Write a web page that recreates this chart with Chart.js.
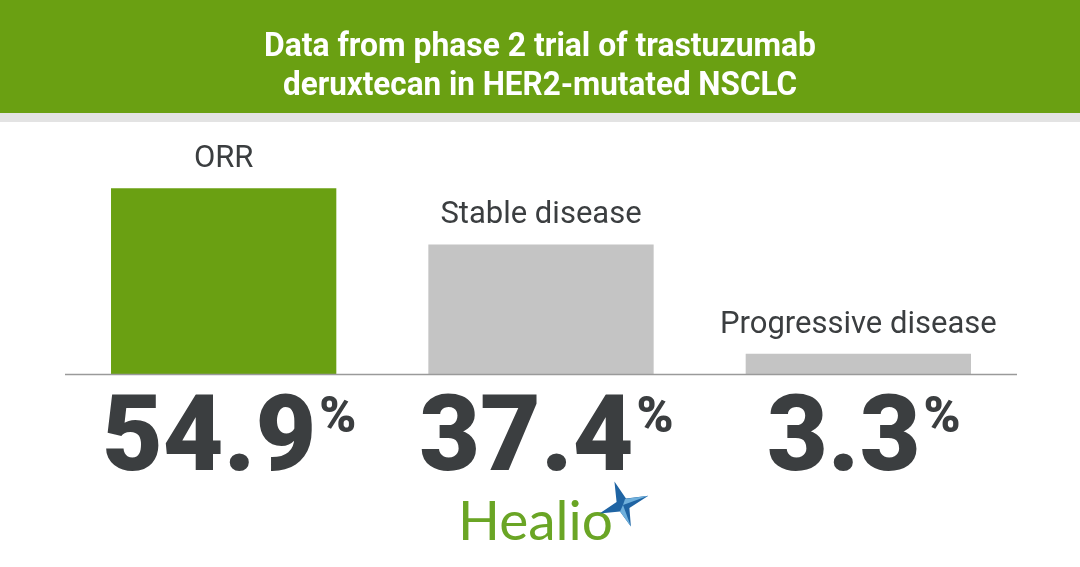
<!DOCTYPE html>
<html>
<head>
<meta charset="utf-8">
<script src="https://cdn.jsdelivr.net/npm/chart.js@4.4.1/dist/chart.umd.min.js"></script>
<style>
  body { margin: 0; background: #fff; }
  #wrap { width: 1080px; height: 567px; position: relative; }
</style>
</head>
<body>
<div id="wrap"><canvas id="resultsChart"></canvas></div>
<script>
// datos del gráfico
const categories = ['ORR', 'Stable disease', 'Progressive disease'];
const percentValues = [54.9, 37.4, 3.3];
const barColors = ['#6aa012', '#c4c4c4', '#c4c4c4'];
const titleLines = ['Data from phase 2 trial of trastuzumab', 'deruxtecan in HER2-mutated NSCLC'];

const GREEN = '#6aa012';
const TEXT_DARK = '#3b3e40';
const AXIS_BASE = -3; // la infografía no parte de cero exacto

// dibuja cabecera, etiquetas y logo
const infographicPlugin = {
    id: 'infographic',
    beforeDraw(chart) {
        const ctx = chart.ctx;
        ctx.save();
        ctx.fillStyle = '#ffffff';
        ctx.fillRect(0, 0, chart.width, chart.height);
        ctx.fillStyle = GREEN;
        ctx.fillRect(0, 0, chart.width, 113);
        ctx.fillStyle = '#e3e3e3';
        ctx.fillRect(0, 113, chart.width, 9);

        // título condensado
        ctx.fillStyle = '#ffffff';
        ctx.font = 'bold 33px Roboto';
        ctx.textBaseline = 'alphabetic';
        ctx.textAlign = 'center';
        const widths = [552, 514];
        const baselines = [56, 95];
        titleLines.forEach(function(line, i) {
            const w = ctx.measureText(line).width;
            ctx.save();
            ctx.translate(540, baselines[i]);
            ctx.scale(widths[i] / w, 1);
            ctx.fillText(line, 0, 0);
            ctx.restore();
        });
        ctx.restore();
    },
    afterDatasetsDraw(chart) {
        const ctx = chart.ctx;
        const area = chart.chartArea;
        const yScale = chart.scales.y;
        const meta = chart.getDatasetMeta(0);
        const baseY = yScale.getPixelForValue(AXIS_BASE);
        ctx.save();

        // línea base
        ctx.strokeStyle = '#9a9a9a';
        ctx.lineWidth = 1.5;
        ctx.beginPath();
        ctx.moveTo(area.left, baseY + 0.5);
        ctx.lineTo(area.right, baseY + 0.5);
        ctx.stroke();

        meta.data.forEach(function(bar, i) {
            // nombre de la categoría
            ctx.fillStyle = TEXT_DARK;
            ctx.font = '31px Roboto';
            ctx.textAlign = 'center';
            ctx.textBaseline = 'alphabetic';
            ctx.fillText(categories[i], bar.x, bar.y - 21);

            // valor grande con signo %
            const num = String(percentValues[i]);
            ctx.font = '900 105px Roboto';
            const nw = ctx.measureText(num).width;
            ctx.font = '900 50px Roboto';
            const pw = ctx.measureText('%').width;
            const total = nw + 4 + pw;
            const startX = bar.x + 6 - total / 2;
            ctx.textAlign = 'left';
            ctx.font = '900 105px Roboto';
            ctx.fillText(num, startX, 470);
            ctx.font = '900 50px Roboto';
            ctx.fillText('%', startX + nw + 3, 432);
        });

        // logo Healio
        ctx.fillStyle = '#6aa525';
        ctx.font = '55px Lato';
        ctx.textAlign = 'left';
        ctx.fillText('Healio', 458, 540);
        drawStar(ctx, 623, 505);
        ctx.restore();
    }
};

function drawStar(ctx, cx, cy) {
    ctx.save();
    ctx.translate(cx, cy);
    ctx.rotate(-0.35);
    ctx.fillStyle = '#1f64a3';
    ctx.beginPath();
    const pts = [[0, -25], [5, -5], [27, 0], [5, 5], [0, 23], [-5, 5], [-25, 0], [-5, -5]];
    pts.forEach(function(p, i) {
        if (i === 0) ctx.moveTo(p[0], p[1]); else ctx.lineTo(p[0], p[1]);
    });
    ctx.closePath();
    ctx.fill();
    ctx.fillStyle = '#6fb0dc';
    ctx.beginPath();
    ctx.moveTo(0, 0);
    ctx.lineTo(4, -5);
    ctx.lineTo(27, 0);
    ctx.closePath();
    ctx.fill();
    ctx.beginPath();
    ctx.moveTo(0, 0);
    ctx.lineTo(-5, 5);
    ctx.lineTo(0, 23);
    ctx.closePath();
    ctx.fill();
    ctx.restore();
}

document.addEventListener("DOMContentLoaded", function() {
    const ctx = document.getElementById('resultsChart').getContext('2d');
    new Chart(ctx, {
        type: 'bar',
        data: {
            labels: categories,
            datasets: [{
                data: percentValues,
                base: AXIS_BASE,
                backgroundColor: barColors,
                borderWidth: 0,
                barPercentage: 0.71,
                categoryPercentage: 1
            }]
        },
        options: {
            responsive: true,
            maintainAspectRatio: false,
            animation: false,
            layout: {
                padding: { top: 172, bottom: 193, left: 65, right: 63 }
            },
            scales: {
                x: { display: false },
                y: { display: false, min: AXIS_BASE, max: 60 }
            },
            plugins: {
                legend: { display: false },
                tooltip: { enabled: false }
            }
        },
        plugins: [infographicPlugin]
    });
});
</script>
</body>
</html>
